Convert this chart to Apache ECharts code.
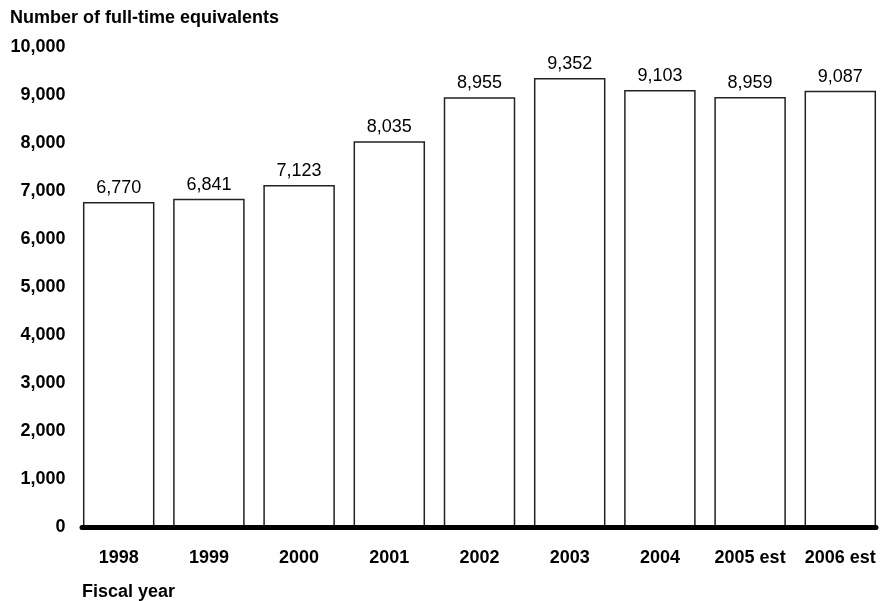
<!DOCTYPE html>
<html>
<head>
<meta charset="utf-8">
<script src="https://cdn.jsdelivr.net/npm/echarts@6/dist/echarts.min.js"></script>
<style>
html,body{margin:0;padding:0;background:#fff;}
#chart{width:891px;height:601px;}
</style>
</head>
<body>
<div id="chart"></div>
<script>
const categories = ['1998', '1999', '2000', '2001', '2002', '2003', '2004', '2005 est', '2006 est'];
const fteValues = [6770, 6841, 7123, 8035, 8955, 9352, 9103, 8959, 9087];
const yTicks = [0, 1000, 2000, 3000, 4000, 5000, 6000, 7000, 8000, 9000, 10000];
const yAxisTitle = 'Number of full-time equivalents';
const xAxisTitle = 'Fiscal year';

const FONT = '"Liberation Sans", Arial, Helvetica, sans-serif';
const fmt = v => v.toLocaleString('en-US');

const chart = echarts.init(document.getElementById('chart'), null, {renderer: 'canvas'});
chart.setOption({
  backgroundColor: '#ffffff',
  animation: false,
  textStyle: {fontFamily: FONT},
  title: [
    {text: yAxisTitle, left: 5, top: 4,
     textStyle: {fontFamily: FONT, fontSize: 18, fontWeight: 'bold', color: '#000'}},
    {text: xAxisTitle, left: 77, top: 578,
     textStyle: {fontFamily: FONT, fontSize: 18, fontWeight: 'bold', color: '#000'}}
  ],
  grid: [
    {left: 73.6, right: 5.6, top: 47, bottom: 74, containLabel: false},
    {left: 82, right: 15, top: 47, bottom: 74, containLabel: false}
  ],
  xAxis: [
    {
      type: 'category', gridIndex: 0, data: categories,
      axisLine: {show: false}, axisTick: {show: false},
      axisLabel: {interval: 0, margin: 22, fontFamily: FONT, fontSize: 18, fontWeight: 'bold', color: '#000'}
    },
    {
      type: 'value', gridIndex: 1, min: 0, max: 1, z: 10,
      axisLine: {show: true, lineStyle: {color: '#000', width: 5}},
      axisTick: {show: false}, axisLabel: {show: false}, splitLine: {show: false}
    }
  ],
  yAxis: [
    {
      type: 'value', gridIndex: 0, min: yTicks[0], max: yTicks[yTicks.length - 1], interval: 1000,
      axisLine: {show: false}, axisTick: {show: false}, splitLine: {show: false},
      axisLabel: {margin: 8, fontFamily: FONT, fontSize: 18, fontWeight: 'bold', color: '#000',
                  formatter: v => fmt(v)}
    },
    {
      type: 'value', gridIndex: 1, min: 0, max: 1, show: false
    }
  ],
  series: [{
    type: 'bar', xAxisIndex: 0, yAxisIndex: 0,
    data: fteValues,
    barWidth: 71.5,
    itemStyle: {color: '#ffffff', borderColor: '#222', borderWidth: 1.5},
    label: {show: true, position: 'top', distance: 5, fontFamily: FONT, fontSize: 18,
            color: '#000', formatter: p => fmt(p.value)}
  }]
});
</script>
</body>
</html>
